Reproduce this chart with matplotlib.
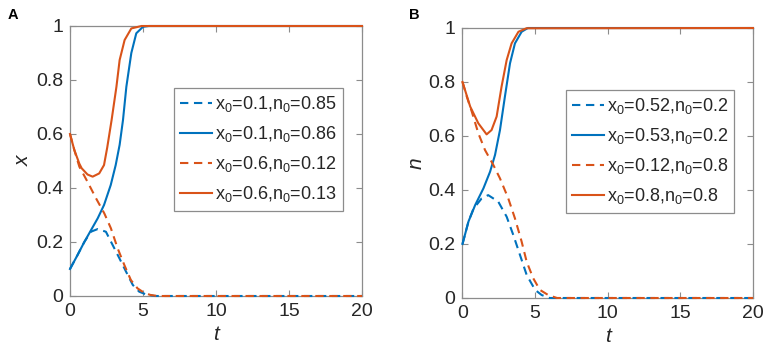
import matplotlib
matplotlib.use("Agg")
import matplotlib.pyplot as plt

plt.rcParams['font.family'] = ['Liberation Sans', 'DejaVu Sans']
plt.rcParams['mathtext.fontset'] = 'custom'
plt.rcParams['mathtext.rm'] = 'Liberation Sans'
plt.rcParams['mathtext.it'] = 'Liberation Sans:italic'

BLUE = '#0072BD'
RED = '#D95319'

# ---------------- Panel A data (x vs t) ----------------
tA_blue_dash = [0, 0.5, 0.98, 1.43, 1.9, 2.46, 2.92, 3.38, 3.84, 4.3, 4.74, 5.2, 5.8, 20]
xA_blue_dash = [0.1, 0.15, 0.2, 0.238, 0.248, 0.238, 0.189, 0.14, 0.09, 0.041, 0.016, 0.006, 0.0, 0.0]

tA_blue_solid = [0, 0.5, 0.98, 1.9, 2.33, 2.79, 3.13, 3.4, 3.63, 3.86, 4.2, 4.54, 5.0, 5.4, 20]
xA_blue_solid = [0.1, 0.15, 0.2, 0.288, 0.337, 0.411, 0.485, 0.56, 0.652, 0.775, 0.9, 0.973, 0.997, 1.0, 1.0]

tA_red_dash = [0, 0.3, 0.64, 1.2, 1.78, 2.35, 2.8, 3.26, 3.72, 4.17, 4.63, 5.08, 5.5, 6.0, 20]
xA_red_dash = [0.6, 0.54, 0.479, 0.423, 0.362, 0.306, 0.251, 0.177, 0.115, 0.059, 0.028, 0.012, 0.004, 0.0, 0.0]

tA_red_solid = [0, 0.3, 0.64, 0.8, 1.2, 1.55, 2.0, 2.33, 2.55, 2.85, 3.18, 3.4, 3.74, 4.2, 4.9, 20]
xA_red_solid = [0.6, 0.54, 0.49, 0.473, 0.45, 0.442, 0.454, 0.485, 0.55, 0.652, 0.775, 0.874, 0.948, 0.991, 1.0, 1.0]

# ---------------- Panel B data (n vs t) ----------------
tB_blue_dash = [0, 0.41, 0.75, 1.32, 1.77, 2.46, 3.04, 3.5, 3.96, 4.42, 5.0, 5.45, 6.0, 20]
nB_blue_dash = [0.2, 0.283, 0.33, 0.369, 0.381, 0.357, 0.301, 0.233, 0.159, 0.085, 0.03, 0.011, 0.0, 0.0]

tB_blue_solid = [0, 0.41, 0.87, 1.44, 1.9, 2.24, 2.58, 2.92, 3.27, 3.61, 4.07, 4.5, 20]
nB_blue_solid = [0.2, 0.283, 0.344, 0.406, 0.468, 0.53, 0.622, 0.746, 0.869, 0.943, 0.986, 1.0, 1.0]

tB_red_dash = [0, 0.3, 0.64, 1.09, 1.55, 2.12, 2.58, 3.15, 3.61, 4.07, 4.42, 4.87, 5.33, 5.9, 6.5, 20]
nB_red_dash = [0.8, 0.745, 0.69, 0.61, 0.548, 0.493, 0.443, 0.369, 0.295, 0.209, 0.134, 0.073, 0.03, 0.011, 0.0, 0.0]

tB_red_solid = [0, 0.53, 1.09, 1.66, 2.0, 2.35, 2.69, 3.04, 3.38, 3.85, 4.4, 20]
nB_red_solid = [0.8, 0.709, 0.647, 0.606, 0.622, 0.672, 0.783, 0.881, 0.943, 0.986, 0.999, 1.0]

labels_A = [r'$\mathrm{x_0}$=0.1,$\mathrm{n_0}$=0.85', r'$\mathrm{x_0}$=0.1,$\mathrm{n_0}$=0.86',
            r'$\mathrm{x_0}$=0.6,$\mathrm{n_0}$=0.12', r'$\mathrm{x_0}$=0.6,$\mathrm{n_0}$=0.13']
labels_B = [r'$\mathrm{x_0}$=0.52,$\mathrm{n_0}$=0.2', r'$\mathrm{x_0}$=0.53,$\mathrm{n_0}$=0.2',
            r'$\mathrm{x_0}$=0.12,$\mathrm{n_0}$=0.8', r'$\mathrm{x_0}$=0.8,$\mathrm{n_0}$=0.8']

xticks = [0, 5, 10, 15, 20]
yticks = [0, 0.2, 0.4, 0.6, 0.8, 1]
ytick_labels = ['0', '0.2', '0.4', '0.6', '0.8', '1']

fig = plt.figure(figsize=(7.65, 3.53), dpi=100)
axA = fig.add_axes([70/765, 57/353, 292/765, 270/353])
axB = fig.add_axes([462.5/765, 55/353, 290.5/765, 270/353])

DASH = (0, (4.0, 2.7))
LW = 1.5
SPINE = '#8c8c8c'
TXT = '#262626'

def style(ax, ylabel):
    ax.set_xlim(0, 20)
    ax.set_ylim(0, 1)
    ax.set_xticks(xticks)
    ax.set_yticks(yticks)
    ax.set_yticklabels(ytick_labels)
    ax.tick_params(direction='in', length=4, width=0.8, color=SPINE, labelsize=14,
                   labelcolor=TXT, top=True, right=True, pad=5)
    for s in ax.spines.values():
        s.set_color(SPINE)
        s.set_linewidth(0.9)
    ax.set_xlabel('t', fontsize=15, style='italic', color=TXT, labelpad=4)
    ax.set_ylabel(ylabel, fontsize=15, style='italic', color=TXT, labelpad=2)

def draw(ax, data, labels):
    handles = []
    for (t, v, c, ls), lab in zip(data, labels):
        h, = ax.plot(t, v, color=c, lw=LW, linestyle=ls, label=lab, zorder=3, clip_on=False)
        handles.append(h)
    leg = ax.legend(handles=handles, loc='upper left', bbox_to_anchor=(0.356, 0.772),
                    borderaxespad=0, fontsize=13, frameon=True, fancybox=False,
                    handlelength=1.75, handletextpad=0.15, labelspacing=0.56,
                    borderpad=0.35, framealpha=1)
    leg.get_frame().set_edgecolor(SPINE)
    leg.get_frame().set_linewidth(0.9)
    leg.set_zorder(5)
    for txt in leg.get_texts():
        txt.set_color(TXT)

draw(axA, [(tA_blue_dash, xA_blue_dash, BLUE, DASH),
           (tA_blue_solid, xA_blue_solid, BLUE, '-'),
           (tA_red_dash, xA_red_dash, RED, DASH),
           (tA_red_solid, xA_red_solid, RED, '-')], labels_A)
draw(axB, [(tB_blue_dash, nB_blue_dash, BLUE, DASH),
           (tB_blue_solid, nB_blue_solid, BLUE, '-'),
           (tB_red_dash, nB_red_dash, RED, DASH),
           (tB_red_solid, nB_red_solid, RED, '-')], labels_B)

style(axA, 'x')
style(axB, 'n')

fig.text(13/765, 1 - 15/353, 'A', fontsize=10.5, fontweight='bold', ha='center', va='center', color='black')
fig.text(414/765, 1 - 15/353, 'B', fontsize=10.5, fontweight='bold', ha='center', va='center', color='black')

fig.savefig('out.png', dpi=100)
